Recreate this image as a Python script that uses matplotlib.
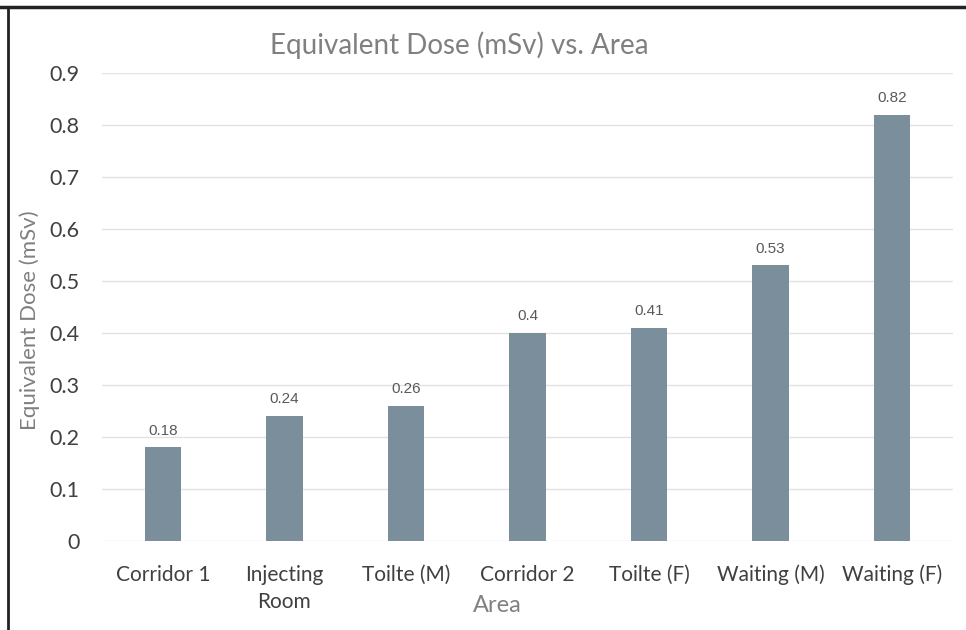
import numpy as np
import matplotlib.pyplot as plt
from matplotlib.lines import Line2D

# datos
areas = ["Corridor 1", "Injecting\nRoom", "Toilte (M)", "Corridor 2",
         "Toilte (F)", "Waiting (M)", "Waiting (F)"]
dosis = [0.18, 0.24, 0.26, 0.40, 0.41, 0.53, 0.82]
etiquetas = ["0.18", "0.24", "0.26", "0.4", "0.41", "0.53", "0.82"]
yticks = [0, 0.1, 0.2, 0.3, 0.4, 0.5, 0.6, 0.7, 0.8, 0.9]

fuente = ["Lato", "DejaVu Sans"]
plt.rcParams['font.family'] = fuente

fig = plt.figure(figsize=(9.66, 6.30), dpi=100)
ax = fig.add_axes([102/966, 1 - 541/630, 851/966, 468/630])

x = np.arange(len(areas))
barras = ax.bar(x, dosis, width=0.3, color="#7a8e9b", zorder=3)

for xi, v, t in zip(x, dosis, etiquetas):
    ax.annotate(t, (xi, v), xytext=(0, 7), textcoords="offset points",
                ha="center", va="bottom", fontsize=11, color="#595959",
                family="Liberation Sans")

ax.set_xlim(-0.5, len(areas) - 0.5)
ax.set_ylim(0, 0.9)
ax.set_yticks(yticks)
ax.set_yticklabels(["0" if v == 0 else f"{v:.1f}" for v in yticks])
ax.set_xticks(x)
ax.set_xticklabels(areas, fontsize=15, color="#404040", linespacing=1.45)
ax.tick_params(axis="y", labelsize=15.5, labelcolor="#404040", length=0, pad=16)
ax.tick_params(axis="x", length=0, pad=17)
ax.grid(axis="y", color="#e3e3e3", linewidth=1, zorder=0)
for s in ax.spines.values():
    s.set_visible(False)

fig.text(459/966, 1 - 45/630, "Equivalent Dose (mSv) vs. Area", ha="center",
         va="center", fontsize=20, color="#808080")
fig.text(497/966, 1 - 606/630, "Area", ha="center", va="center",
         fontsize=17, color="#808080")
fig.text(30/966, 1 - 320/630, "Equivalent Dose (mSv)", ha="center",
         va="center", rotation=90, fontsize=16, color="#808080")

# marco de la captura
fig.add_artist(Line2D([0, 1], [1 - 6.5/630, 1 - 6.5/630], color="#222222",
                      linewidth=2.5, transform=fig.transFigure))
fig.add_artist(Line2D([8/966, 8/966], [0, 1 - 6.5/630], color="#222222",
                      linewidth=2, transform=fig.transFigure))

fig.savefig("out.png", dpi=100)
